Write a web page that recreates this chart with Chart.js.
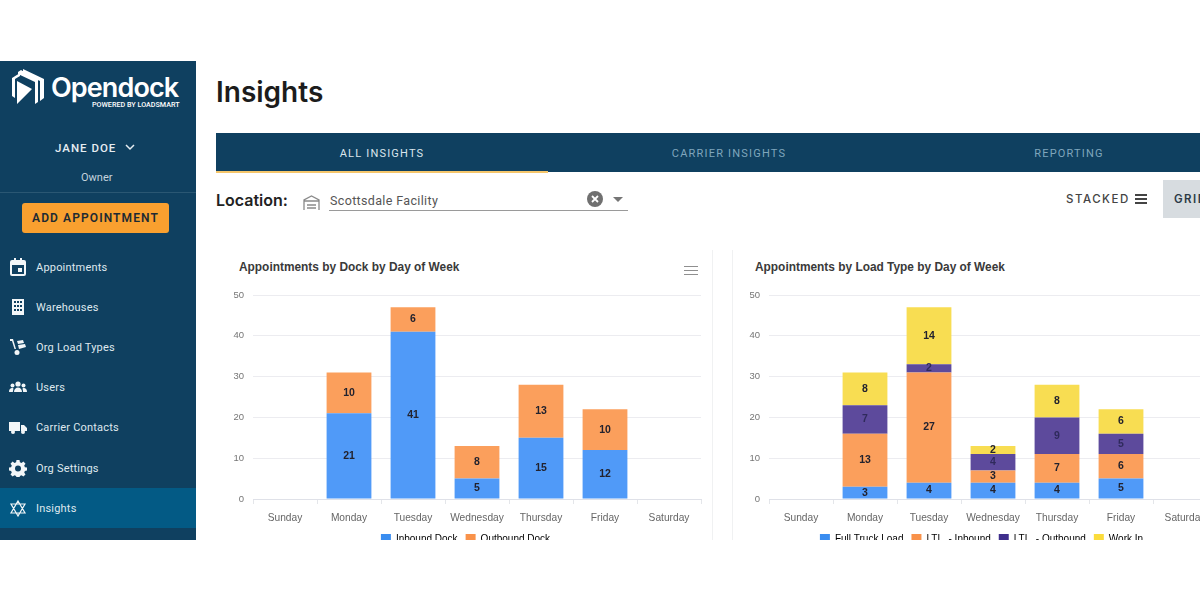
<!DOCTYPE html>
<html>
<head>
<meta charset="utf-8">
<script src="https://cdn.jsdelivr.net/npm/chart.js@4/dist/chart.umd.min.js"></script>
<style>
  html, body { margin: 0; width: 1200px; height: 600px; overflow: hidden; background: #fff; }
  #app { position: absolute; left: 0; top: 61px; width: 1200px; height: 479px; overflow: hidden; font-family: Roboto, sans-serif; }
  #app > *, #side > * { position: absolute; }
  #side { left: 0; top: 0; width: 196px; height: 479px; background: #0f4060; color: #e6edf2; }
  .nav { left: 36px; font-size: 11px; letter-spacing: .2px; line-height: 16px; white-space: nowrap; color: #dfe8ee; }
  .ico { left: 9px; width: 18px; height: 18px; fill: #f2f6f8; }
  .tab { top: 86px; font-size: 11px; letter-spacing: 1.2px; line-height: 14px; transform: translateX(-50%); white-space: nowrap; color: #7fa6bd; }
  .card { top: 189px; height: 290px; width: 1px; background: #f0f1f2; }
  .chartTitle { top: 199px; font: bold 11.9px/14px "Liberation Sans", sans-serif; color: #3a3a3a; white-space: nowrap; }
  canvas { position: absolute; }
</style>
</head>
<body>
<div id="app">
  <div id="side">
    <svg style="left:11px;top:7px;width:34px;height:40px" viewBox="0 0 34 40">
      <path fill="#fff" d="M1 10 9 5 9 8 4 11 4 30 1 28Z M12 1 33 11 33 30 29 33 29 13 12 5Z M7 4 10 2 27 12 27 34 24 36 24 14 7 6Z M6 13 21 21 6 36Z"/>
    </svg>
    <div style="left:51px;top:9px;font:600 27px/36px Inter,sans-serif;letter-spacing:-.9px;color:#fff">Opendock</div>
    <div style="left:92px;top:39px;font:500 7.2px/10px Roboto,sans-serif;color:#fff;white-space:nowrap">POWERED BY LOADSMART</div>
    <div style="left:55px;top:80px;font:500 11.5px/14px Roboto,sans-serif;letter-spacing:1px;white-space:nowrap">JANE DOE</div>
    <svg style="left:125px;top:83px;width:10px;height:7px" viewBox="0 0 10 7"><path d="M1 1 5 5 9 1" fill="none" stroke="#e6edf2" stroke-width="1.5"/></svg>
    <div style="left:81px;top:110px;font:400 11px/13px Roboto,sans-serif;color:#c4d3dd">Owner</div>
    <div style="left:0;top:131px;width:196px;height:1px;background:#2a5773"></div>
    <div style="left:22px;top:142px;width:147px;height:30px;border-radius:3px;background:#f9a02f;color:#1d2a33;font:600 12px/30px Roboto,sans-serif;letter-spacing:1.1px;text-align:center">ADD APPOINTMENT</div>
    <div style="left:0;top:427px;width:196px;height:40px;background:#035a85"></div>
    <svg class="ico" style="top:197px" viewBox="0 0 18 18"><path fill-rule="evenodd" d="M3 2h2V0h2v2h4V0h2v2h2a2 2 0 0 1 2 2v12a2 2 0 0 1-2 2H3a2 2 0 0 1-2-2V4a2 2 0 0 1 2-2ZM3 7v9h12V7ZM9 10h4v4H9Z"/></svg>
    <div class="nav" style="top:199px">Appointments</div>
    <svg class="ico" style="top:237px" viewBox="0 0 18 18"><path fill-rule="evenodd" d="M3 1h12v16H3ZM5 3v2h2V3Zm3 0v2h2V3Zm3 0v2h2V3ZM5 7v2h2V7Zm3 0v2h2V7Zm3 0v2h2V7ZM5 11v2h2v-2Zm3 0v2h2v-2Zm3 0v2h2v-2Z"/></svg>
    <div class="nav" style="top:239px">Warehouses</div>
    <svg class="ico" style="top:277px" viewBox="0 0 18 18"><path d="M1 1h3l3 10h-1.500L3 3H1ZM8 3l6-1 1 3-6 1ZM9 7l7-1 1 3-7 2Z"/><circle cx="8" cy="14.500" r="2.500"/></svg>
    <div class="nav" style="top:279px">Org Load Types</div>
    <svg class="ico" style="top:317px" viewBox="0 0 18 18"><circle cx="9" cy="6" r="2.600"/><circle cx="3.500" cy="7.500" r="2"/><circle cx="14.500" cy="7.500" r="2"/><path d="M5 14c0-6 8-6 8 0ZM0 14c0-4 3-4.500 4.500-3.500L3.800 14ZM18 14c0-4-3-4.500-4.500-3.500l.7 3.500Z"/></svg>
    <div class="nav" style="top:319px">Users</div>
    <svg class="ico" style="top:357px" viewBox="0 0 18 18"><path d="M0 4h11v9H0ZM12 7h3l3 3v3h-6Z"/><circle cx="4" cy="14" r="2"/><circle cx="14" cy="14" r="2"/></svg>
    <div class="nav" style="top:359px">Carrier Contacts</div>
    <svg class="ico" style="top:398px" viewBox="0 0 18 18"><path fill-rule="evenodd" d="M7.500 1h3l.4 2.200 1.600.7L14.400 2.600l2.100 2.100-1.300 1.900.7 1.600 2.100.3v3l-2.100.4-.7 1.600 1.300 1.900-2.100 2.100-1.900-1.300-1.600.7-.4 2.100h-3l-.4-2.100-1.600-.7-1.900 1.300-2.100-2.100 1.300-1.900-.7-1.600L0 11.500v-3l2.100-.3.7-1.600L1.500 4.700l2.100-2.100 1.900 1.300 1.600-.7ZM9 6.500a3 3 0 1 0 0 6 3 3 0 0 0 0-6Z"/></svg>
    <div class="nav" style="top:400px">Org Settings</div>
    <svg class="ico" style="top:438px" viewBox="0 0 18 18"><path fill="none" stroke="#f2f6f8" stroke-width="1.200" d="M9 2 16 14H2ZM9 17 2 5H16Z"/></svg>
    <div class="nav" style="top:440px">Insights</div>
  </div>

  <div style="left:216px;top:11px;font:600 28px/40px Inter,sans-serif;color:#1c1c1c">Insights</div>
  <div style="left:216px;top:72px;width:984px;height:39px;background:#0f4060"></div>
  <div style="left:216px;top:110px;width:332px;height:2px;background:#f5c66b"></div>
  <div class="tab" style="left:382px;color:#dbe6ed">ALL INSIGHTS</div>
  <div class="tab" style="left:729px">CARRIER INSIGHTS</div>
  <div class="tab" style="left:1069px">REPORTING</div>

  <div style="left:216px;top:128px;font:600 16px/22px Inter,sans-serif;color:#222">Location:</div>
  <svg style="left:303px;top:133px;width:17px;height:17px" viewBox="0 0 17 17"><path fill="none" stroke="#8a8a8a" stroke-width="1.300" d="M1 16V6L8.500 2 16 6V16M1 7H16M4 11h9M4 14h9"/></svg>
  <div style="left:330px;top:132px;font:400 12.500px/16px Roboto,sans-serif;letter-spacing:.35px;color:#555">Scottsdale Facility</div>
  <div style="left:329px;top:149px;width:299px;height:1px;background:#9a9a9a"></div>
  <svg style="left:586px;top:129px;width:18px;height:18px" viewBox="0 0 18 18"><circle cx="9" cy="9" r="8" fill="#707070"/><path d="M6 6l6 6M12 6l-6 6" stroke="#fff" stroke-width="1.800"/></svg>
  <svg style="left:613px;top:136px;width:10px;height:5px" viewBox="0 0 10 5"><path d="M0 0h10L5 5Z" fill="#757575"/></svg>
  <div style="left:1066px;top:131px;font:500 11.500px/14px Inter,sans-serif;letter-spacing:1.500px;color:#444">STACKED</div>
  <svg style="left:1135px;top:133px;width:12px;height:10px" viewBox="0 0 12 10"><path d="M0 0h12v2H0ZM0 4h12v2H0ZM0 8h12v2H0Z" fill="#444"/></svg>
  <div style="left:1163px;top:119px;width:37px;height:38px;background:#d7dce0"></div>
  <div style="left:1174px;top:131px;font:600 11.500px/14px Inter,sans-serif;letter-spacing:1.500px;color:#2b3a46">GRID</div>

  <div class="card" style="left:712px"></div>
  <div class="card" style="left:732px"></div>
  <svg style="left:684px;top:205px;width:14px;height:10px" viewBox="0 0 14 10"><path d="M0 .5h14M0 4.500h14M0 8.500h14" stroke="#8f8f8f" stroke-width="1.200"/></svg>

  <div class="chartTitle" style="left:239px">Appointments by Dock by Day of Week</div>
  <div class="chartTitle" style="left:755px">Appointments by Load Type by Day of Week</div>
  <canvas id="dockChart" style="left:230px;top:189px;width:473px;height:304px"></canvas>
  <canvas id="loadChart" style="left:746px;top:189px;width:473px;height:304px"></canvas>
</div>

<script>
const days = ["Sunday", "Monday", "Tuesday", "Wednesday", "Thursday", "Friday", "Saturday"];

const inboundDock = [null, 21, 41, 5, 15, 12, null];
const outboundDock = [null, 10, 6, 8, 13, 10, null];

const fullTruck = [null, 3, 4, 4, 4, 5, null];
const ltlInbound = [null, 13, 27, 3, 7, 6, null];
const ltlOutbound = [null, 7, 2, 4, 9, 5, null];
const workIn = [null, 8, 14, 2, 8, 6, null];

const blue = "#509af8";
const orange = "#fb9f5c";
const purple = "#5d4a9c";
const yellow = "#f8dd52";

const blueKey = "#3a8df0";
const orangeKey = "#f9924a";
const purpleKey = "#3f2f8c";
const yellowKey = "#fbdc3c";

// numbers in the middle of each stacked block
const barLabels = {
  id: "barLabels",
  afterDatasetsDraw(chart) {
    let ctx = chart.ctx;
    ctx.save();
    ctx.font = "bold 10.5px 'Liberation Sans'";
    ctx.textAlign = "center";
    ctx.textBaseline = "middle";
    chart.data.datasets.forEach((ds, i) => {
      // the reference has these nearly sinking into the purple
      ctx.fillStyle = ds.backgroundColor == purple ? "#2f2a5c" : "#22222e";
      chart.getDatasetMeta(i).data.forEach((bar, j) => {
        if (ds.data[j] == null) return;
        ctx.fillText(ds.data[j], bar.x, (bar.y + bar.base) / 2);
      });
    });
    ctx.restore();
  },
};

function makeChart(id, datasets, keys) {
  let canvas = document.getElementById(id);
  canvas.width = 473;
  canvas.height = 304;

  new Chart(canvas, {
    type: "bar",
    data: {
      labels: days,
      datasets: datasets,
    },
    plugins: [barLabels],
    options: {
      responsive: false,
      animation: false,
      devicePixelRatio: 1,
      layout: { padding: { left: 0, right: 2, top: 45, bottom: 0 } },
      datasets: { bar: { categoryPercentage: 0.7, barPercentage: 1 } },
      scales: {
        x: {
          stacked: true,
          grid: { drawOnChartArea: false, color: "#e4e6ea", tickLength: 5 },
          border: { color: "#dfe1e8" },
          ticks: { color: "#666", font: { family: "Liberation Sans", size: 10.2 }, padding: 8, maxRotation: 0 },
          afterFit(scale) { scale.height = 27; },
        },
        y: {
          stacked: true,
          min: 0,
          max: 50,
          grid: { color: "#ececf0", drawTicks: false },
          border: { display: false },
          ticks: { stepSize: 10, color: "#757575", font: { family: "Liberation Sans", size: 9.5 }, padding: 9 },
          afterFit(scale) { scale.width = 23; },
        },
      },
      plugins: {
        tooltip: { enabled: false },
        title: { display: false },
        legend: {
          position: "bottom",
          labels: {
            boxWidth: 10,
            boxHeight: 10,
            padding: 8,
            color: "#555",
            font: { family: "Liberation Sans", size: 10 },
            generateLabels(chart) {
              return chart.data.datasets.map((ds, i) => ({
                text: ds.label,
                fillStyle: keys[i],
                strokeStyle: keys[i],
                lineWidth: 0,
                datasetIndex: i,
              }));
            },
          },
        },
      },
    },
  });
}

makeChart(
  "dockChart",
  [
    { label: "Inbound Dock", data: inboundDock, backgroundColor: blue },
    { label: "Outbound Dock", data: outboundDock, backgroundColor: orange },
  ],
  [blueKey, orangeKey]
);

makeChart(
  "loadChart",
  [
    { label: "Full Truck Load", data: fullTruck, backgroundColor: blue },
    { label: "LTL  - Inbound", data: ltlInbound, backgroundColor: orange },
    { label: "LTL  - Outbound", data: ltlOutbound, backgroundColor: purple },
    { label: "Work In", data: workIn, backgroundColor: yellow },
  ],
  [blueKey, orangeKey, purpleKey, yellowKey]
);
</script>
</body>
</html>
